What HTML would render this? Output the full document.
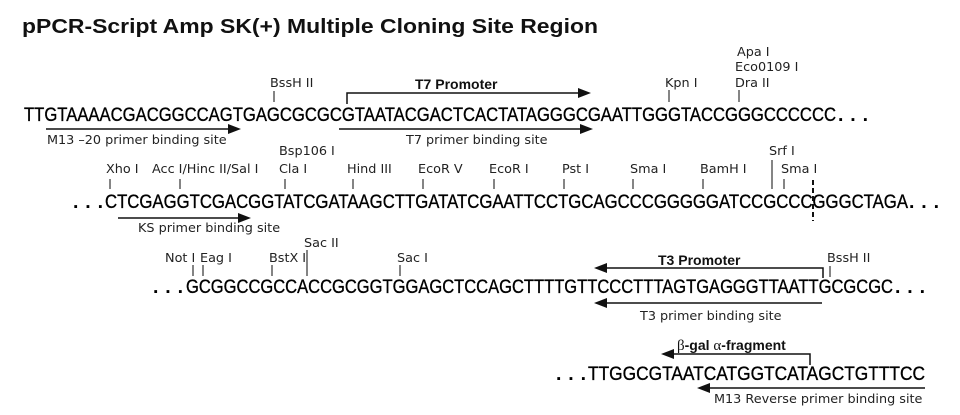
<!DOCTYPE html>
<html><head><meta charset="utf-8"><style>
html,body{margin:0;padding:0;background:#fff;}
svg{display:block;}
.seq{font-family:"Liberation Sans",sans-serif;font-size:19.5px;fill:#000;stroke:#000;stroke-width:0.35;}
.dot{font-family:"Liberation Sans",sans-serif;font-size:19.5px;font-weight:bold;fill:#000;}
.lb{font-family:"DejaVu Sans","Liberation Sans",sans-serif;font-size:12.8px;fill:#222;}
.bd{font-family:"Liberation Sans",sans-serif;font-size:14px;font-weight:bold;fill:#111;}
.t{stroke:#333;stroke-width:1.2;}
.ln{stroke:#111;stroke-width:1.5;fill:none;}
</style></head><body>
<svg width="960" height="415" viewBox="0 0 960 415" xmlns="http://www.w3.org/2000/svg">
<text x="22" y="33" font-family="Liberation Sans,sans-serif" font-size="20.5" font-weight="bold" fill="#111" textLength="576" lengthAdjust="spacingAndGlyphs">pPCR-Script Amp SK(+) Multiple Cloning Site Region</text>

<!-- Line 1 -->
<text class="seq" x="24" y="121" textLength="812" lengthAdjust="spacingAndGlyphs">TTGTAAAACGACGGCCAGTGAGCGCGCGTAATACGACTCACTATAGGGCGAATTGGGTACCGGGCCCCCC</text>
<text class="dot" x="838" y="121" textLength="30" lengthAdjust="spacing">...</text>
<text class="lb" x="270" y="87">BssH II</text><line class="t" x1="274" y1="91" x2="274" y2="102"/>
<text class="bd" x="415" y="89">T7 Promoter</text>
<polyline class="ln" points="347,104 347,93 580,93"/><polygon points="578,88 591,93 578,98" fill="#111"/>
<line class="ln" x1="46" y1="129" x2="230" y2="129"/><polygon points="228,124 241,129 228,134" fill="#111"/>
<text class="lb" x="47" y="144">M13 –20 primer binding site</text>
<line class="ln" x1="339" y1="129" x2="582" y2="129"/><polygon points="580,124 593,129 580,134" fill="#111"/>
<text class="lb" x="406" y="144">T7 primer binding site</text>
<text class="lb" x="665" y="87">Kpn I</text><line class="t" x1="669" y1="90" x2="669" y2="102"/>
<text class="lb" x="737" y="56">Apa I</text>
<text class="lb" x="735" y="71">Eco0109 I</text>
<text class="lb" x="735" y="87">Dra II</text><line class="t" x1="739" y1="90" x2="739" y2="102"/>

<!-- Line 2 -->
<text class="dot" x="73" y="208" textLength="30" lengthAdjust="spacing">...</text>
<text class="seq" x="105" y="208" textLength="803" lengthAdjust="spacingAndGlyphs">CTCGAGGTCGACGGTATCGATAAGCTTGATATCGAATTCCTGCAGCCCGGGGGATCCGCCCGGGCTAGA</text>
<text class="dot" x="909" y="208" textLength="30" lengthAdjust="spacing">...</text>
<text class="lb" x="106" y="173">Xho I</text><line class="t" x1="110" y1="179" x2="110" y2="189"/>
<text class="lb" x="152" y="173">Acc I/Hinc II/Sal I</text><line class="t" x1="180" y1="179" x2="180" y2="189"/>
<text class="lb" x="279" y="155">Bsp106 I</text>
<text class="lb" x="279" y="173">Cla I</text><line class="t" x1="285" y1="179" x2="285" y2="189"/>
<text class="lb" x="347" y="173">Hind III</text><line class="t" x1="353" y1="179" x2="353" y2="189"/>
<text class="lb" x="418" y="173">EcoR V</text><line class="t" x1="423" y1="179" x2="423" y2="189"/>
<text class="lb" x="489" y="173">EcoR I</text><line class="t" x1="494" y1="179" x2="494" y2="189"/>
<text class="lb" x="562" y="173">Pst I</text><line class="t" x1="564" y1="179" x2="564" y2="189"/>
<text class="lb" x="630" y="173">Sma I</text><line class="t" x1="633" y1="179" x2="633" y2="189"/>
<text class="lb" x="700" y="173">BamH I</text><line class="t" x1="703" y1="179" x2="703" y2="189"/>
<text class="lb" x="769" y="155">Srf I</text><line class="t" x1="772" y1="160" x2="772" y2="189"/>
<text class="lb" x="781" y="173">Sma I</text><line class="t" x1="784" y1="179" x2="784" y2="189"/>
<line x1="813" y1="180" x2="813" y2="221" stroke="#111" stroke-width="2" stroke-dasharray="5,3"/>
<line class="ln" x1="118" y1="218" x2="240" y2="218"/><polygon points="238,213 251,218 238,223" fill="#111"/>
<text class="lb" x="138" y="232">KS primer binding site</text>

<!-- Line 3 -->
<text class="dot" x="153" y="293" textLength="30" lengthAdjust="spacing">...</text>
<text class="seq" x="186" y="293" textLength="707" lengthAdjust="spacingAndGlyphs">GCGGCCGCCACCGCGGTGGAGCTCCAGCTTTTGTTCCCTTTAGTGAGGGTTAATTGCGCGC</text>
<text class="dot" x="895" y="293" textLength="30" lengthAdjust="spacing">...</text>
<text class="lb" x="165" y="262">Not I</text><line class="t" x1="193" y1="265" x2="193" y2="276"/>
<text class="lb" x="200" y="262">Eag I</text><line class="t" x1="203" y1="265" x2="203" y2="276"/>
<text class="lb" x="269" y="262">BstX I</text><line class="t" x1="272" y1="265" x2="272" y2="276"/>
<text class="lb" x="304" y="247">Sac II</text><line class="t" x1="307" y1="250" x2="307" y2="276"/>
<text class="lb" x="397" y="262">Sac I</text><line class="t" x1="400" y1="265" x2="400" y2="276"/>
<text class="bd" x="658" y="265">T3 Promoter</text>
<polyline class="ln" points="823,278 823,268 604,268"/><polygon points="607,263 594,268 607,273" fill="#111"/>
<text class="lb" x="827" y="262">BssH II</text><line class="t" x1="830" y1="266" x2="830" y2="277"/>
<line class="ln" x1="822" y1="303" x2="604" y2="303"/><polygon points="607,298 594,303 607,308" fill="#111"/>
<text class="lb" x="640" y="320">T3 primer binding site</text>

<!-- Line 4 -->
<text class="dot" x="556" y="380" textLength="30" lengthAdjust="spacing">...</text>
<text class="seq" x="588" y="380" textLength="337" lengthAdjust="spacingAndGlyphs">TTGGCGTAATCATGGTCATAGCTGTTTCC</text>
<text x="677" y="350" font-family="Liberation Sans,sans-serif" font-size="14" fill="#111"><tspan font-family="Liberation Serif,serif" font-size="15">β</tspan><tspan font-weight="bold">-gal </tspan><tspan font-family="Liberation Serif,serif" font-size="15">α</tspan><tspan font-weight="bold">-fragment</tspan></text>
<polyline class="ln" points="810,365 810,354 671,354"/><polygon points="674,349 661,354 674,359" fill="#111"/>
<line class="ln" x1="925" y1="388" x2="707" y2="388"/><polygon points="710,383 697,388 710,393" fill="#111"/>
<text class="lb" x="714" y="403">M13 Reverse primer binding site</text>
</svg>
</body></html>
